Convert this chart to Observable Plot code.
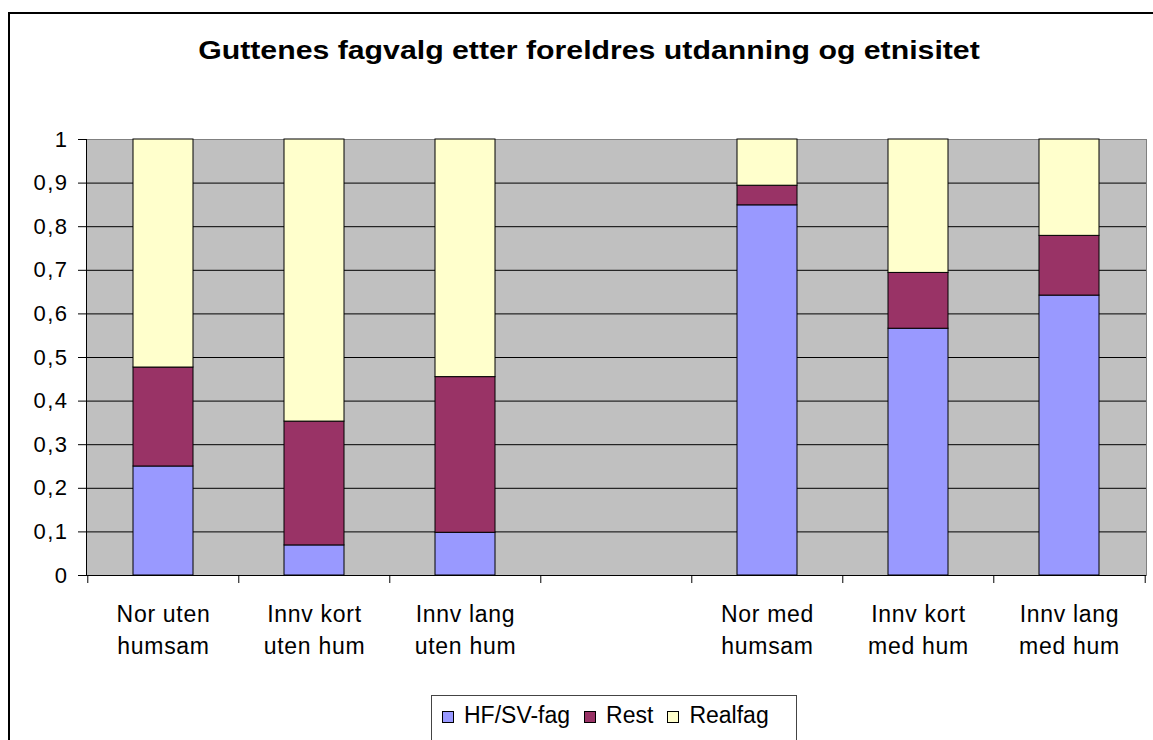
<!DOCTYPE html>
<html>
<head>
<meta charset="utf-8">
<script src="https://cdn.jsdelivr.net/npm/d3@7"></script>
<script src="https://cdn.jsdelivr.net/npm/@observablehq/plot@0.6"></script>
<style>
  html, body { margin: 0; padding: 0; background: #fff; }
  #wrap { position: relative; width: 1153px; height: 740px; overflow: hidden; background: #fff; font-family: "Liberation Sans", Arial, sans-serif; }
  #border { position: absolute; left: 8px; top: 12px; width: 1180px; height: 800px; border: 2px solid #000; box-sizing: border-box; }
  #title { position: absolute; left: 0; width: 1178px; top: 38px; line-height: 25px; font-size: 25px; font-weight: bold; text-align: center; color: #000; white-space: nowrap; transform: scaleX(1.21); transform-origin: 589px 50%; }
  #chart { position: absolute; left: 0; top: 0; }
  #chart g[aria-label="y-axis tick label"] text { letter-spacing: 1.5px; }
  #chart g[aria-label="x-axis tick label"] text { letter-spacing: 0.7px; }
  #legend { position: absolute; left: 431px; top: 695px; width: 366px; height: 60px; border: 1px solid #444; box-sizing: border-box; background: #fff; display: flex; align-items: flex-start; padding: 8px 0 0 10px; font-size: 23px; line-height: 23px; color: #000; white-space: nowrap; }
  .item { display: flex; align-items: flex-start; margin-right: 14px; }
  .sw { width: 12px; height: 12px; border: 1px solid #000; box-sizing: border-box; margin-right: 10px; margin-top: 7px; }
</style>
</head>
<body>
<div id="wrap">
  <div id="border"></div>
  <div id="title"></div>
  <div id="chart"></div>
  <div id="legend"></div>
</div>
<script>
const title = "Guttenes fagvalg etter foreldres utdanning og etnisitet";
const categories = ["Nor uten\nhumsam", "Innv kort\nuten hum", "Innv lang\nuten hum", "", "Nor med\nhumsam", "Innv kort\nmed hum", "Innv lang\nmed hum"];
const seriesNames = ["HF/SV-fag", "Rest", "Realfag"];
const seriesColors = ["#9999FF", "#993366", "#FFFFCC"];
const hfsv =    [0.250, 0.069, 0.098, null, 0.849, 0.566, 0.642];
const rest =    [0.227, 0.284, 0.357, null, 0.045, 0.128, 0.137];
const realfag = [0.523, 0.647, 0.545, null, 0.106, 0.306, 0.221];
const yTicks = [0, 0.1, 0.2, 0.3, 0.4, 0.5, 0.6, 0.7, 0.8, 0.9, 1];

const seriesValues = [hfsv, rest, realfag];
const rows = [];
categories.forEach((c, i) => {
  seriesNames.forEach((s, j) => {
    const v = seriesValues[j][i];
    if (v != null) rows.push({cat: c, series: s, value: v});
  });
});

document.getElementById("title").textContent = title;

const W = 1153, H = 700, mL = 86, mR = 7, mT = 139, mB = 125;
const step = (W - mL - mR) / categories.length;

const chart = Plot.plot({
  width: W, height: H,
  marginLeft: mL, marginRight: mR, marginTop: mT, marginBottom: mB,
  style: {fontFamily: "Liberation Sans, Arial, sans-serif", fontSize: "22px", color: "#000", background: "transparent"},
  x: {domain: categories, paddingInner: 0.6, paddingOuter: 0.3},
  y: {domain: [0, 1]},
  color: {domain: seriesNames, range: seriesColors},
  marks: [
    Plot.frame({fill: "#C0C0C0", stroke: "#808080"}),
    Plot.ruleY(yTicks.slice(1, -1), {stroke: "#000", strokeWidth: 1}),
    Plot.barY(rows, {x: "cat", y: "value", fill: "series", stroke: "#000", strokeWidth: 1, order: seriesNames}),
    Plot.frame({anchor: "left", stroke: "#000"}),
    Plot.ruleY([0], {stroke: "#000"}),
    Plot.axisY({ticks: yTicks, tickSize: 8, tickPadding: 10, stroke: "#000", fontSize: 22, label: null,
      tickFormat: d => String(d).replace(".", ",")}),
    Plot.axisX({tickSize: 0, tickPadding: 23, fontSize: 23, lineHeight: 1.42, label: null, tickFormat: d => d}),
    Plot.axisX({ticks: categories, tickSize: 8, dx: -step / 2, stroke: "#000", tickFormat: null, label: null}),
    Plot.axisX({ticks: categories.slice(-1), tickSize: 8, dx: step / 2, stroke: "#000", tickFormat: null, label: null})
  ]
});
document.getElementById("chart").appendChild(chart);

const legend = document.getElementById("legend");
seriesNames.forEach((s, i) => {
  const item = document.createElement("div");
  item.className = "item";
  const sw = document.createElement("div");
  sw.className = "sw";
  sw.style.background = seriesColors[i];
  const t = document.createElement("span");
  t.textContent = s;
  item.appendChild(sw);
  item.appendChild(t);
  legend.appendChild(item);
});
</script>
</body>
</html>
